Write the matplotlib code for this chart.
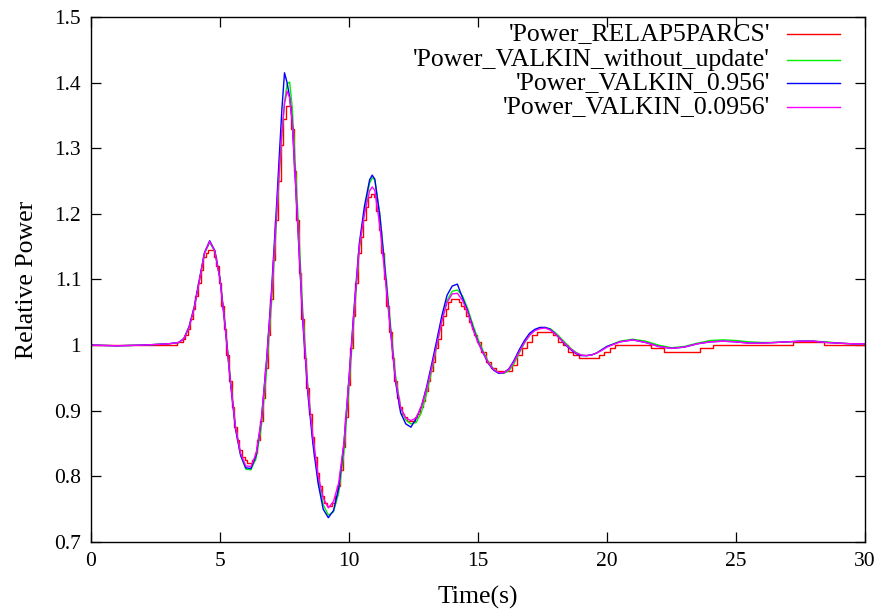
import matplotlib
matplotlib.use("Agg")
import matplotlib.pyplot as plt
from matplotlib.lines import Line2D

plt.rcParams['font.family'] = ['Liberation Serif', 'DejaVu Serif']

# ---- data ----
time = [0, 1, 2, 2.5,
        3.0, 3.2, 3.4, 3.6, 3.8, 4.0, 4.2, 4.4, 4.6, 4.8, 5.0, 5.2, 5.4, 5.6, 5.8, 6.0,
        6.2, 6.4, 6.6, 6.8, 7.0, 7.2,
        7.3, 7.4, 7.5, 7.6, 7.7, 7.8,
        8.0, 8.2, 8.4, 8.6, 8.8, 9.0, 9.2, 9.4, 9.6, 9.8, 10.0, 10.2, 10.4, 10.6, 10.8, 10.9,
        11.0, 11.2, 11.4, 11.6, 11.8, 12.0, 12.2, 12.4, 12.6, 12.8, 13.0, 13.2, 13.4, 13.6,
        13.8, 14.0, 14.2, 14.4, 14.6, 14.8, 15.0, 15.2, 15.4, 15.6, 15.8, 16.0, 16.2, 16.4,
        16.6, 16.8, 17.0, 17.2, 17.4, 17.6, 17.8, 18.0, 18.2, 18.4, 18.6, 18.8, 19.0, 19.2,
        19.4, 19.6, 19.8, 20.0,
        20.5, 21.0, 21.5, 22.0, 22.5, 23.0, 23.5, 24.0, 24.5, 25.0, 25.5, 26.0, 26.5, 27.0,
        27.5, 28.0, 28.5, 29.0, 29.5, 30.0]

power_valkin_without_update = [
    1.000, 0.999, 1.000, 1.001,
    1.002, 1.003, 1.004, 1.010, 1.027, 1.056, 1.098, 1.140, 1.156, 1.143, 1.102, 1.032, 0.950, 0.876, 0.832, 0.811,
    0.810, 0.828, 0.875, 0.958, 1.065, 1.195,
    1.260, 1.320, 1.370, 1.398, 1.401, 1.362,
    1.215, 1.058, 0.940, 0.858, 0.796, 0.757, 0.741, 0.746, 0.775, 0.835, 0.935, 1.045, 1.145, 1.205, 1.247, 1.255,
    1.252, 1.198, 1.118, 1.035, 0.955, 0.905, 0.886, 0.880, 0.882, 0.897, 0.925, 0.960, 0.998, 1.037,
    1.068, 1.082, 1.084, 1.075, 1.056, 1.031, 1.009, 0.991, 0.975, 0.964, 0.958, 0.957, 0.961, 0.972,
    0.988, 1.003, 1.015, 1.023, 1.026, 1.027, 1.025, 1.019, 1.011, 1.003, 0.995, 0.989, 0.985, 0.984,
    0.985, 0.988, 0.993, 0.998,
    1.006, 1.009, 1.006, 1.000, 0.996, 0.998, 1.003, 1.007, 1.008, 1.007, 1.005, 1.004, 1.004, 1.005,
    1.006, 1.006, 1.005, 1.003, 1.002, 1.002]

power_valkin_0956 = [
    1.000, 0.999, 1.000, 1.001,
    1.002, 1.003, 1.004, 1.010, 1.028, 1.058, 1.100, 1.141, 1.159, 1.144, 1.101, 1.028, 0.945, 0.872, 0.832, 0.813,
    0.812, 0.832, 0.885, 0.975, 1.085, 1.218,
    1.290, 1.360, 1.415, 1.400, 1.378, 1.340,
    1.192, 1.040, 0.928, 0.850, 0.790, 0.750, 0.737, 0.748, 0.782, 0.848, 0.950, 1.058, 1.155, 1.212, 1.252, 1.259,
    1.253, 1.195, 1.112, 1.027, 0.945, 0.897, 0.880, 0.875, 0.888, 0.906, 0.935, 0.970, 1.007, 1.045,
    1.076, 1.090, 1.093, 1.072, 1.052, 1.027, 1.005, 0.988, 0.972, 0.962, 0.957, 0.958, 0.964, 0.977,
    0.993, 1.007, 1.018, 1.024, 1.027, 1.027, 1.024, 1.017, 1.009, 1.000, 0.993, 0.987, 0.984, 0.984,
    0.985, 0.988, 0.993, 0.998,
    1.005, 1.008, 1.004, 0.998, 0.995, 0.997, 1.002, 1.005, 1.006, 1.005, 1.003, 1.003, 1.004, 1.005,
    1.006, 1.006, 1.004, 1.003, 1.002, 1.002]

power_valkin_00956 = [
    1.000, 0.999, 1.000, 1.001,
    1.002, 1.003, 1.004, 1.010, 1.027, 1.056, 1.098, 1.140, 1.158, 1.143, 1.100, 1.028, 0.946, 0.875, 0.835, 0.816,
    0.815, 0.835, 0.885, 0.972, 1.078, 1.205,
    1.268, 1.325, 1.368, 1.387, 1.377, 1.340,
    1.195, 1.045, 0.935, 0.860, 0.802, 0.767, 0.752, 0.762, 0.790, 0.850, 0.948, 1.053, 1.150, 1.200, 1.235, 1.241,
    1.236, 1.180, 1.104, 1.025, 0.948, 0.905, 0.889, 0.885, 0.889, 0.906, 0.932, 0.965, 1.000, 1.037,
    1.065, 1.078, 1.079, 1.068, 1.050, 1.025, 1.004, 0.988, 0.973, 0.963, 0.958, 0.958, 0.963, 0.975,
    0.990, 1.004, 1.015, 1.022, 1.025, 1.026, 1.023, 1.017, 1.009, 1.001, 0.994, 0.988, 0.985, 0.984,
    0.985, 0.988, 0.992, 0.997,
    1.005, 1.008, 1.004, 0.998, 0.995, 0.997, 1.002, 1.005, 1.006, 1.005, 1.003, 1.003, 1.004, 1.005,
    1.006, 1.006, 1.004, 1.003, 1.002, 1.002]

time_relap = [0.0, 3.3, 3.4, 3.5, 3.6, 3.7, 3.8, 3.9, 4.0, 4.1, 4.2, 4.3, 4.4, 4.5, 4.6, 4.7, 4.8, 4.9,
              5.0, 5.1, 5.2, 5.3, 5.4, 5.5, 5.6, 5.7, 5.8, 5.9, 6.0, 6.1, 6.2, 6.3, 6.4, 6.5, 6.6, 6.7,
              6.8, 6.9, 7.0, 7.1, 7.2, 7.3, 7.4, 7.5, 7.6, 7.7, 7.8, 7.9, 8.0, 8.1, 8.2, 8.3, 8.4, 8.5,
              8.6, 8.7, 8.8, 8.9, 9.0, 9.1, 9.2, 9.3, 9.4, 9.5, 9.6, 9.7, 9.8, 9.9, 10.0, 10.1, 10.2,
              10.3, 10.4, 10.5, 10.6, 10.7, 10.8, 10.9, 11.0, 11.1, 11.2, 11.3, 11.4, 11.5, 11.6, 11.7,
              11.8, 11.9, 12.0, 12.1, 12.2, 12.3, 12.4, 12.5, 12.6, 12.7, 12.8, 12.9, 13.0, 13.1, 13.2,
              13.3, 13.4, 13.5, 13.6, 13.7, 13.8, 13.9, 14.0, 14.1, 14.2, 14.3, 14.4, 14.5, 14.6, 14.7,
              14.8, 14.9, 15.0, 15.2, 15.4, 15.6, 15.8, 16.0, 16.2, 16.4, 16.6, 16.8, 17.0, 17.2, 17.4,
              17.6, 17.8, 18.0, 18.2, 18.4, 18.6, 18.8, 19.0, 19.2, 19.4, 19.6, 19.8, 20.0, 20.2, 20.4,
              21.7, 22.2, 23.6, 24.1, 27.2, 28.4, 30.0]

power_relap5parcs = [1.000, 1.000, 1.005, 1.005, 1.010, 1.015, 1.025, 1.040, 1.055, 1.075, 1.095, 1.115, 1.135, 1.140, 1.145, 1.145, 1.135, 1.120,
                     1.095, 1.060, 1.025, 0.985, 0.945, 0.905, 0.875, 0.855, 0.840, 0.830, 0.825, 0.820, 0.820, 0.825, 0.835, 0.855, 0.885, 0.920,
                     0.965, 1.015, 1.070, 1.130, 1.190, 1.250, 1.305, 1.345, 1.365, 1.365, 1.330, 1.265, 1.190, 1.110, 1.040, 0.980, 0.935, 0.895,
                     0.860, 0.830, 0.805, 0.785, 0.770, 0.760, 0.755, 0.755, 0.760, 0.770, 0.785, 0.810, 0.845, 0.890, 0.940, 0.995, 1.045,
                     1.095, 1.140, 1.165, 1.190, 1.210, 1.225, 1.230, 1.225, 1.205, 1.175, 1.140, 1.100, 1.060, 1.020, 0.980,
                     0.945, 0.920, 0.905, 0.895, 0.890, 0.885, 0.885, 0.885, 0.890, 0.895, 0.905, 0.915, 0.930, 0.945, 0.960,
                     0.975, 0.995, 1.010, 1.030, 1.045, 1.055, 1.065, 1.070, 1.070, 1.070, 1.065, 1.060, 1.055, 1.045, 1.035,
                     1.025, 1.015, 1.005, 0.990, 0.975, 0.965, 0.960, 0.960, 0.960, 0.970, 0.985, 0.995, 1.005, 1.015, 1.020,
                     1.020, 1.020, 1.015, 1.005, 1.000, 0.990, 0.985, 0.980, 0.980, 0.980, 0.980, 0.985, 0.990, 0.995, 1.000,
                     0.995, 0.990, 0.995, 1.000, 1.005, 1.000, 1.000]

labels = ["'Power_RELAP5PARCS'", "'Power_VALKIN_without_update'",
          "'Power_VALKIN_0.956'", "'Power_VALKIN_0.0956'"]
colors = ['#ff0000', '#00ee00', '#0000ff', '#ff00ff']

x_ticks = [0, 5, 10, 15, 20, 25, 30]
y_ticks = [0.7, 0.8, 0.9, 1.0, 1.1, 1.2, 1.3, 1.4, 1.5]
y_tick_labels = ['0.7', '0.8', '0.9', '1', '1.1', '1.2', '1.3', '1.4', '1.5']

# ---- figure ----
fig = plt.figure(figsize=(8.85, 6.11), dpi=100)
ax = fig.add_axes([91 / 885, 1 - 542 / 611, (865 - 91) / 885, (542 - 17) / 611])

lw = 1.0
# RELAP5/PARCS: finely sampled part drawn centred on samples, sparse tail held until next change
k = time_relap.index(20.4)
ax.plot(time_relap[:k + 1], power_relap5parcs[:k + 1], color=colors[0], lw=lw, drawstyle='steps-mid')
ax.plot(time_relap[k:], power_relap5parcs[k:], color=colors[0], lw=lw, drawstyle='steps-post')
ax.plot(time, power_valkin_without_update, color=colors[1], lw=lw)
ax.plot(time, power_valkin_0956, color=colors[2], lw=lw)
ax.plot(time, power_valkin_00956, color=colors[3], lw=lw)

ax.set_xlim(0, 30)
ax.set_ylim(0.7, 1.5)
ax.set_xticks(x_ticks)
ax.set_xticklabels([str(v) for v in x_ticks])
ax.set_yticks(y_ticks)
ax.set_yticklabels(y_tick_labels)
ax.tick_params(direction='in', length=7, width=0.9, top=True, right=True,
               labelsize=15.5, pad=7)
for sp in ax.spines.values():
    sp.set_linewidth(1.0)

ax.set_xlabel('Time(s)', fontsize=18.5, labelpad=11)
ax.set_ylabel('Relative Power', fontsize=18.5, labelpad=12)

# legend (gnuplot style: right-aligned text, sample line on the right)
row_y = [34, 60, 83, 107]
for lab, col, yp in zip(labels, colors, row_y):
    yy = 1 - (yp - 17) / (542 - 17)
    ax.text((770 - 91) / (865 - 91), yy, lab, transform=ax.transAxes,
            ha='right', va='center', fontsize=18.5)
    ax.add_line(Line2D([(787 - 91) / (865 - 91), (840 - 91) / (865 - 91)], [yy, yy],
                       transform=ax.transAxes, color=col, lw=lw))

fig.savefig('out.png', dpi=100)
